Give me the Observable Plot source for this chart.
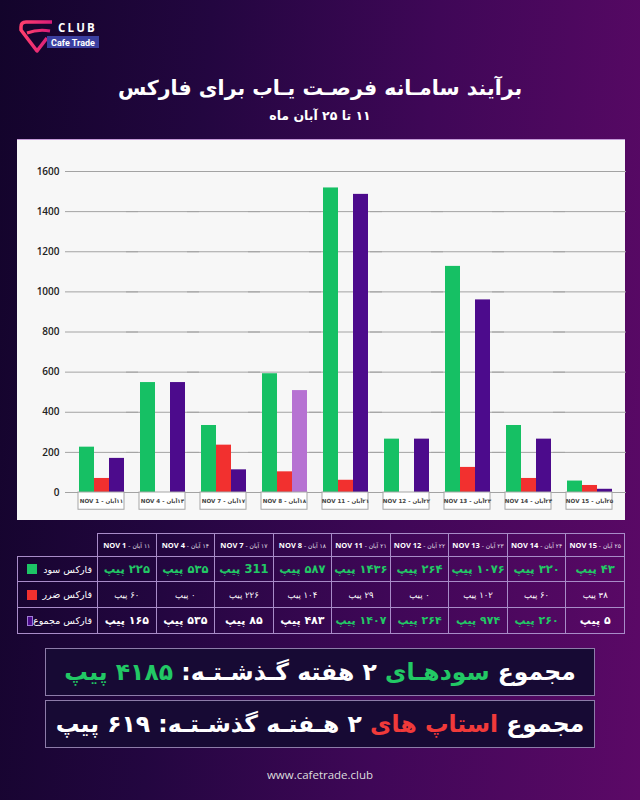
<!DOCTYPE html>
<html><head><meta charset="utf-8">
<script src="https://cdn.jsdelivr.net/npm/d3@7"></script>
<script src="https://cdn.jsdelivr.net/npm/@observablehq/plot@0.6"></script>
<style>
body{margin:0;}
#page{position:relative;width:640px;height:800px;overflow:hidden;
  background:linear-gradient(95deg,#13042b 0%,#230640 30%,#3f0757 62%,#5c0967 100%);
  font-family:"DejaVu Sans",sans-serif;color:#fff;}
#title{position:absolute;left:0;width:640px;top:76px;text-align:center;direction:rtl;font-weight:bold;font-size:20.5px;}
#subtitle{position:absolute;left:0;width:640px;top:108px;text-align:center;direction:rtl;font-size:12.5px;font-weight:bold;}
#panel{position:absolute;left:17px;top:139px;width:608px;height:380px;background:#f7f7f7;border-top:1px solid #c49ad8;}
#panel svg{display:block;}
#tbl{position:absolute;left:17px;top:533px;width:608px;border-collapse:collapse;table-layout:fixed;}
#tbl td{border:1px solid #a88cc8;text-align:center;padding:0;direction:rtl;white-space:nowrap;overflow:hidden;}
#tbl tr.h td{height:22px;font-size:6px;color:#e6e0ee;}
#tbl tr.h td b{font-family:"Open Sans";font-size:7.5px;color:#fff;}
#tbl td.corner{border-top:none;border-left:none;}
#tbl tr.r1 td{height:24px;}
#tbl tr.r2 td{height:25px;}
#tbl tr.r3 td{height:25px;}
.lab{display:flex;align-items:center;justify-content:space-between;padding:0 5px 0 9px;direction:ltr;font-size:9.5px;}
.sw{width:10px;height:10px;display:inline-block;box-sizing:border-box;}
.v1{color:#22c865;font-weight:bold;font-size:11.5px;}
.v2{color:#fff;font-size:8.5px;}
.v3{font-weight:bold;font-size:11px;}
.box{position:absolute;left:45px;width:548px;background:#170a34;border:1px solid #8d7ca9;text-align:center;direction:rtl;font-weight:bold;font-size:23.5px;white-space:nowrap;}
#foot{position:absolute;left:0;width:640px;top:767px;text-align:center;font-family:"Open Sans";font-size:11.5px;color:#ddd;}
</style></head>
<body><div id="page">
<svg width="110" height="60" style="position:absolute;left:0;top:0">
<defs><linearGradient id="lg" x1="0" x2="1"><stop offset="0" stop-color="#ff3f6c"/><stop offset="1" stop-color="#d81c7a"/></linearGradient></defs>
<path d="M52 22 L26 22 Q21 22 21 27 L21 30 L37 51 L47 38" fill="none" stroke="url(#lg)" stroke-width="3.5" stroke-linejoin="round"/>
<path d="M27 33 Q38 29 50 31" fill="none" stroke="url(#lg)" stroke-width="3"/>
<text x="58" y="32" fill="#fff" font-weight="700" font-size="11.5" letter-spacing="2.2" font-family="Open Sans">CLUB</text>
<rect x="47" y="36" width="52" height="12" fill="#3b3fa0"/>
<text x="73" y="45.5" text-anchor="middle" fill="#fff" font-size="9" font-weight="700" font-family="Roboto">Cafe Trade</text>
</svg>
<div id="title">برآیند سامـانه فرصـت یـاب برای فارکس</div>
<div id="subtitle">۱۱ تا ۲۵ آبان ماه</div>
<div id="panel"></div>
<table id="tbl"></table>
<div class="box" style="top:648px;height:46px;line-height:46px;">مجموع <span style="color:#22c865">سودهـای</span> ۲ هفته گـذشـتـه: <span style="color:#22c865">۴۱۸۵ پیپ</span></div>
<div class="box" style="top:700px;height:46px;line-height:46px;">مجموع <span style="color:#f03a3a">استاپ های</span> ۲ هـفتـه گذشـتـه: ۶۱۹ پیپ</div>
<div id="foot">www.cafetrade.club</div>
</div>
<script>
const dates = ["NOV 1","NOV 4","NOV 7","NOV 8","NOV 11","NOV 12","NOV 13","NOV 14","NOV 15"];
const shamsiDays = ["۱۱","۱۴","۱۷","۱۸","۲۱","۲۲","۲۳","۲۴","۲۵"];
const monthName = "آبان";
const seriesKeys = ["profit","loss","total"];
const seriesNames = ["فارکس سود","فارکس ضرر","فارکس مجموع"];
const profitBars = [226, 548, 334, 592, 1518, 266, 1127, 334, 57];
const lossBars = [70, 0, 236, 103, 61, 0, 125, 70, 35];
const totalBars = [170, 548, 113, 508, 1486, 266, 960, 266, 16];
const profitText = ["۲۲۵ پیپ","۵۳۵ پیپ","311 پیپ","۵۸۷ پیپ","۱۴۳۶ پیپ","۲۶۴ پیپ","۱۰۷۶ پیپ","۳۲۰ پیپ","۴۳ پیپ"];
const lossText = ["۶۰ پیپ","۰ پیپ","۲۲۶ پیپ","۱۰۴ پیپ","۲۹ پیپ","۰ پیپ","۱۰۲ پیپ","۶۰ پیپ","۳۸ پیپ"];
const totalText = ["۱۶۵ پیپ","۵۳۵ پیپ","۸۵ پیپ","۴۸۳ پیپ","۱۴۰۷ پیپ","۲۶۴ پیپ","۹۷۴ پیپ","۲۶۰ پیپ","۵ پیپ"];
const yTicks = [0,200,400,600,800,1000,1200,1400,1600];

// styles
const colors = {profit:"#16c064", loss:"#f2302f", total:"#4c0b8c"};
const lightTotal = "#b672d2";
const lightTotalDates = new Set(["NOV 8"]);
const greenTotalDates = new Set(["NOV 11","NOV 12","NOV 13","NOV 14"]);
const swatch = {profit:["#1dc466","#1dc466"], loss:["#f2302f","#f2302f"], total:["#4c0b8c","#a07cd6"]};

const rows = dates.flatMap((d,i)=>[
  {date:d, series:"profit", value:profitBars[i]},
  {date:d, series:"loss", value:lossBars[i]},
  {date:d, series:"total", value:totalBars[i]}
]);
// grid lines drawn in every facet, widened to close the gaps between facets
const gridRows = dates.flatMap(d => yTicks.map(v => ({date:d, v})));
const tickRows = yTicks.map(v => ({date:dates[0], v}));

const chart = Plot.plot({
  width:608, height:378, marginTop:31, marginRight:0, marginBottom:26, marginLeft:48,
  style:{background:"transparent", overflow:"visible"},
  fx:{domain:dates, paddingInner:0.246, paddingOuter:0.213, axis:null, label:null},
  x:{domain:seriesKeys, padding:0, axis:null},
  y:{domain:[0,1600], axis:null},
  marks:[
    Plot.ruleY(gridRows, {fx:"date", y:"v", stroke:"#a3a3a3", strokeWidth:1, insetLeft:-13, insetRight:-14}),
    Plot.text(tickRows, {fx:"date", y:"v", text:d=>String(d.v), frameAnchor:"left", textAnchor:"end", dx:-19,
      fontSize:10, fontWeight:600, fill:"#222", fontFamily:"Open Sans"}),
    Plot.barY(rows, {fx:"date", x:"series", y:"value",
      fill:d=> d.series==="total" && lightTotalDates.has(d.date) ? lightTotal : colors[d.series]}),
    Plot.rect(dates, {fx:d=>d, y1:0, y2:-86, fill:"#fff", stroke:"#a5a5a5", strokeWidth:1}),
    Plot.text(dates, {fx:d=>d, y:-43, text:(d,i)=>"\u202B" + shamsiDays[i] + monthName + " - " + d + "\u202C",
      fontSize:5.6, fontWeight:700, fill:"#444", fontFamily:"DejaVu Sans"})
  ]
});
document.getElementById("panel").appendChild(chart);

// table
const tbl = d3.select("#tbl");
const cg = tbl.append("colgroup");
cg.append("col").style("width","80px");
dates.forEach(()=>cg.append("col"));
const hr = tbl.append("tr").attr("class","h");
hr.append("td").attr("class","corner");
dates.forEach((d,i)=>{
  hr.append("td").html(shamsiDays[i] + " " + monthName + " - <b>" + d + "</b>");
});
const texts = [profitText, lossText, totalText];
seriesKeys.forEach((k,r)=>{
  const tr = tbl.append("tr").attr("class","r"+(r+1));
  tr.append("td").html(`<div class="lab"><span class="sw" style="background:${swatch[k][0]};border:1px solid ${swatch[k][1]}"></span><span style="direction:rtl">${seriesNames[r]}</span></div>`);
  texts[r].forEach((t,i)=>{
    const td = tr.append("td").attr("class","v"+(r+1)).text(t);
    if (k==="total") td.style("color", greenTotalDates.has(dates[i]) ? "#22c865" : "#fff");
  });
});
</script>
</body></html>
